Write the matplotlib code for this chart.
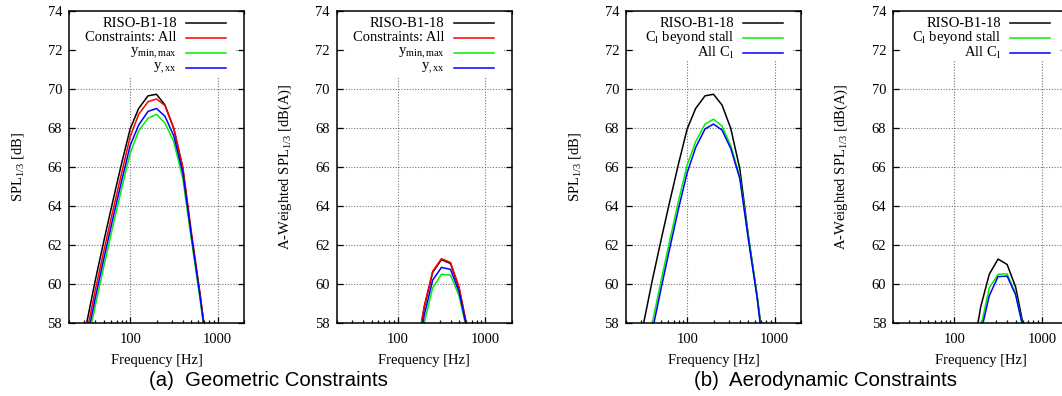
import numpy as np
import matplotlib
matplotlib.use("Agg")
import matplotlib.pyplot as plt
from matplotlib.ticker import LogLocator, FixedLocator, FixedFormatter, NullFormatter
from matplotlib.patches import Rectangle

plt.rcParams['font.family'] = 'Liberation Serif'
plt.rcParams['mathtext.fontset'] = 'custom'
plt.rcParams['mathtext.rm'] = 'Liberation Serif'
plt.rcParams['mathtext.it'] = 'Liberation Serif:italic'

# --- data (1/3-octave band centre frequencies, Hz) ---
freq = [25, 31.5, 40, 50, 63, 80, 100, 125, 160, 200, 250, 315, 400, 500, 630, 800]
freq_a = [125, 160, 200, 250, 315, 400, 500, 630, 800]

# (a) geometric constraints, unweighted
riso = [55.9, 57.9, 60.2, 62.2, 64.2, 66.2, 67.95, 69.0, 69.65, 69.73, 69.18, 67.98, 65.9, 62.5, 59.4, 55.8]
geo_all = [55.4, 57.4, 59.7, 61.7, 63.7, 65.7, 67.55, 68.7, 69.35, 69.49, 69.15, 67.98, 66.0, 62.7, 59.5, 55.9]
geo_ymm = [54.6, 56.6, 58.9, 60.9, 62.9, 64.9, 66.7, 67.85, 68.5, 68.7, 68.25, 67.3, 65.4, 62.3, 59.2, 55.7]
geo_yxx = [55.0, 57.0, 59.3, 61.3, 63.3, 65.3, 67.1, 68.15, 68.85, 69.0, 68.6, 67.6, 65.7, 62.5, 59.35, 55.8]

# (a) geometric constraints, A-weighted
riso_a = [53.0, 56.3, 58.8, 60.6, 61.25, 61.05, 59.8, 57.6, 55.0]
geo_all_a = [53.0, 56.3, 58.85, 60.65, 61.3, 61.1, 59.85, 57.6, 55.0]
geo_ymm_a = [52.3, 55.6, 58.0, 59.8, 60.5, 60.45, 59.4, 57.4, 54.9]
geo_yxx_a = [52.6, 55.9, 58.4, 60.2, 60.85, 60.75, 59.6, 57.5, 54.9]

# (b) aerodynamic constraints, unweighted
aero_stall = [53.8, 55.9, 58.0, 60.1, 62.2, 64.3, 66.1, 67.3, 68.2, 68.45, 68.1, 67.1, 65.5, 62.4, 59.4, 55.5]
aero_all = [53.4, 55.5, 57.6, 59.7, 61.8, 63.9, 65.7, 67.0, 67.95, 68.2, 67.9, 66.95, 65.4, 62.3, 59.3, 55.4]

# (b) aerodynamic constraints, A-weighted
riso_a2 = [53.0, 56.3, 58.85, 60.5, 61.28, 61.0, 59.85, 57.6, 55.0]
aero_stall_a = [51.5, 55.0, 57.8, 59.8, 60.5, 60.52, 59.5, 57.5, 54.9]
aero_all_a = [51.2, 54.8, 57.5, 59.4, 60.38, 60.4, 59.45, 57.45, 54.9]

geo_labels = ['RISO-B1-18', 'Constraints: All', r'y$_{\rm min,max}$', r'y$_{\rm ,xx}$']
geo_colors = ['black', '#ff0000', '#00ee00', '#0000ff']
aero_labels = ['RISO-B1-18', r'C$_{\rm l}$ beyond stall', r'All C$_{\rm l}$']
aero_colors = ['black', '#00ee00', '#0000ff']


def style_axis(ax, ylabel):
    ax.set_xscale('log')
    ax.set_xlim(20, 2000)
    ax.set_ylim(58, 74)
    ax.xaxis.set_major_locator(FixedLocator([100, 1000]))
    ax.xaxis.set_major_formatter(FixedFormatter(['100', '1000']))
    ax.xaxis.set_minor_locator(LogLocator(base=10, subs=np.arange(2, 10)))
    ax.xaxis.set_minor_formatter(NullFormatter())
    ax.set_yticks(np.arange(58, 75, 2))
    ax.tick_params(which='both', direction='in', top=True, right=True,
                   labelsize=10.5, width=0.9, color='black')
    ax.tick_params(which='major', length=4.0)
    ax.tick_params(which='minor', length=2.3)
    ax.tick_params(axis='x', pad=7)
    ax.tick_params(axis='y', pad=5)
    ax.grid(True, which='major', color='0.45', linestyle=(0, (1, 1.5)), linewidth=0.8)
    ax.set_axisbelow(True)
    for sp in ax.spines.values():
        sp.set_linewidth(1.1)
    ax.set_xlabel('Frequency [Hz]', fontsize=10.5)
    ax.set_ylabel(ylabel, fontsize=10.5)
    ax.xaxis.set_label_coords(0.5, -0.1)
    ax.yaxis.set_label_coords(-0.245, 0.5)


def draw_key(ax, labels, colors, box_bottom):
    ax.add_patch(Rectangle((0.05, box_bottom), 0.9, 1 - box_bottom, transform=ax.transAxes,
                           facecolor='white', edgecolor='none', zorder=1.5))
    for i, (lab, c) in enumerate(zip(labels, colors)):
        y = 0.9615 - i * 0.048
        ax.plot([0.669, 0.897], [y, y], color=c, lw=1.1, transform=ax.transAxes,
                zorder=3, clip_on=False)
        ax.text(0.617, y, lab, ha='right', va='center', fontsize=10.5,
                transform=ax.transAxes, zorder=3)


fig = plt.figure(figsize=(10.62, 3.96), dpi=100)
W, H = 1062.0, 396.0
bottom = 73 / H
height = 312 / H
lefts = [69, 336.7, 626, 893.3]
axes = [fig.add_axes([l / W, bottom, 175 / W, height]) for l in lefts]

spl_label = r'SPL$_{1/3}$ [dB]'
aw_label = r'A-Weighted SPL$_{1/3}$ [dB(A)]'

ax = axes[0]
for vals, c in zip([riso, geo_all, geo_ymm, geo_yxx], geo_colors):
    ax.plot(freq, vals, color=c, lw=1.1, zorder=2)
style_axis(ax, spl_label)
draw_key(ax, geo_labels, geo_colors, 0.79)

ax = axes[1]
for vals, c in zip([riso_a, geo_all_a, geo_ymm_a, geo_yxx_a], geo_colors):
    ax.plot(freq_a, vals, color=c, lw=1.1, zorder=2)
style_axis(ax, aw_label)
draw_key(ax, geo_labels, geo_colors, 0.79)

ax = axes[2]
for vals, c in zip([riso, aero_stall, aero_all], aero_colors):
    ax.plot(freq, vals, color=c, lw=1.1, zorder=2)
style_axis(ax, spl_label)
draw_key(ax, aero_labels, aero_colors, 0.84)

ax = axes[3]
for vals, c in zip([riso_a2, aero_stall_a, aero_all_a], aero_colors):
    ax.plot(freq_a, vals, color=c, lw=1.1, zorder=2)
style_axis(ax, aw_label)
draw_key(ax, aero_labels, aero_colors, 0.84)

fig.text(268 / W, 1 - 380 / H, '(a)  Geometric Constraints', ha='center', va='center',
         fontsize=14.7, family='Liberation Sans')
fig.text(825 / W, 1 - 380 / H, '(b)  Aerodynamic Constraints', ha='center', va='center',
         fontsize=14.7, family='Liberation Sans')

fig.savefig('out.png', dpi=100)
